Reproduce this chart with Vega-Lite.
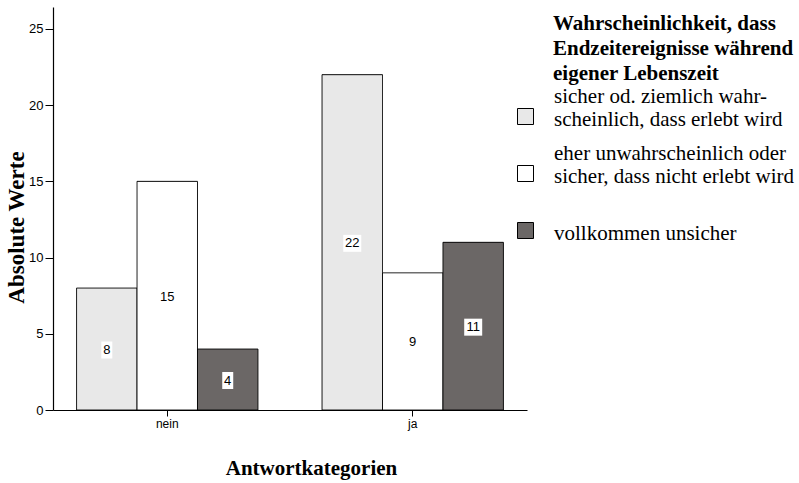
{
  "$schema": "https://vega.github.io/schema/vega-lite/v6.json",
  "width": 474,
  "height": 403,
  "autosize": {"type": "none"},
  "padding": {"left": 53, "top": 7, "right": 272, "bottom": 73},
  "background": "white",
  "config": {
    "view": {"stroke": null},
    "axis": {"labelFont": "Liberation Sans", "labelFontSize": 13, "labelColor": "black", "domainColor": "black", "tickColor": "black", "grid": false}
  },
  "title": {
    "text": ["Wahrscheinlichkeit, dass", "Endzeitereignisse während", "eigener Lebenszeit"],
    "font": "Liberation Serif",
    "fontSize": 21,
    "fontWeight": "bold",
    "color": "black",
    "anchor": "start",
    "frame": "group",
    "orient": "none",
    "align": "left",
    "baseline": "top",
    "lineHeight": 25,
    "dx": 500,
    "dy": 6,
    "offset": 0
  },
  "data": {
    "values": [
      {"antwort": "nein", "kat": "sicher od. ziemlich wahrscheinlich, dass erlebt wird", "n": 8},
      {"antwort": "nein", "kat": "eher unwahrscheinlich oder sicher, dass nicht erlebt wird", "n": 15},
      {"antwort": "nein", "kat": "vollkommen unsicher", "n": 4},
      {"antwort": "ja", "kat": "sicher od. ziemlich wahrscheinlich, dass erlebt wird", "n": 22},
      {"antwort": "ja", "kat": "eher unwahrscheinlich oder sicher, dass nicht erlebt wird", "n": 9},
      {"antwort": "ja", "kat": "vollkommen unsicher", "n": 11}
    ]
  },
  "encoding": {
    "x": {
      "field": "antwort",
      "type": "nominal",
      "sort": ["nein", "ja"],
      "scale": {"paddingInner": 0.261, "paddingOuter": 0.096},
      "axis": {
        "title": "Antwortkategorien",
        "titleFont": "Liberation Serif",
        "titleFontSize": 21,
        "titleFontWeight": "bold",
        "titleColor": "black",
        "titleX": 258,
        "titleY": 64,
        "titleBaseline": "alphabetic",
        "titleAlign": "center",
        "labelAngle": 0,
        "tickSize": 6,
        "labelPadding": 2,
        "labelFontSize": 12,
        "domainWidth": 1.2
      }
    },
    "xOffset": {
      "field": "kat",
      "type": "nominal",
      "sort": ["sicher od. ziemlich wahrscheinlich, dass erlebt wird", "eher unwahrscheinlich oder sicher, dass nicht erlebt wird", "vollkommen unsicher"],
      "scale": {"paddingInner": 0, "paddingOuter": 0}
    }
  },
  "layer": [
    {
      "mark": {"type": "bar", "stroke": "black", "strokeWidth": 1, "opacity": 1},
      "encoding": {
        "y": {
          "field": "n",
          "type": "quantitative",
          "scale": {"domain": [0, 26.44], "nice": false},
          "axis": {
            "title": "Absolute Werte",
            "titleFont": "Liberation Serif",
            "titleFontSize": 23,
            "titleFontWeight": "bold",
            "titleColor": "black",
            "titleAngle": -90,
            "titleX": -37,
            "titleY": 220,
            "titleAlign": "center",
            "titleBaseline": "middle",
            "values": [0, 5, 10, 15, 20, 25],
            "tickSize": 8,
            "labelPadding": 2,
            "domainWidth": 1.2
          }
        },
        "color": {
          "field": "kat",
          "type": "nominal",
          "scale": {
            "domain": ["sicher od. ziemlich wahrscheinlich, dass erlebt wird", "eher unwahrscheinlich oder sicher, dass nicht erlebt wird", "vollkommen unsicher"],
            "range": ["#e8e8e8", "#ffffff", "#6b6766"]
          },
          "legend": {
            "title": null,
            "orient": "none",
            "legendX": 464,
            "legendY": 101,
            "padding": 0,
            "symbolType": "square",
            "symbolSize": 256,
            "symbolStrokeColor": "black",
            "symbolStrokeWidth": 1,
            "symbolOpacity": 1,
            "labelFontSize": 6,
            "labelOpacity": 0,
            "labelExpr": "''",
            "rowPadding": 36
          }
        },
        "strokeDash": {
          "field": "kat",
          "type": "nominal",
          "scale": {
            "domain": ["sicher od. ziemlich wahrscheinlich, dass erlebt wird", "eher unwahrscheinlich oder sicher, dass nicht erlebt wird", "vollkommen unsicher"],
            "range": [[1, 0], [1, 0], [1, 0]]
          },
          "legend": {
            "title": null,
            "orient": "right",
            "offset": -77,
            "padding": 79,
            "symbolType": "square",
            "symbolSize": 256,
            "symbolOpacity": 0,
            "symbolStrokeWidth": 0,
            "labelFont": "Liberation Serif",
            "labelFontSize": 21,
            "labelColor": "black",
            "labelLineHeight": 23,
            "labelOffset": 4,
            "labelLimit": 400,
            "rowPadding": 12,
            "labelBaseline": "middle",
            "labelExpr": "datum.label == 'vollkommen unsicher' ? ['', 'vollkommen unsicher'] : (indexof(datum.label, 'sicher od.') == 0 ? ['sicher od. ziemlich  wahr-', 'scheinlich, dass erlebt wird'] : ['eher unwahrscheinlich oder', 'sicher, dass nicht erlebt wird'])"
          }
        }
      }
    },
    {
      "mark": {"type": "point", "filled": true, "fill": "white", "stroke": null, "opacity": 1, "size": 324, "yOffset": 1},
      "encoding": {
        "y": {"field": "n", "type": "quantitative", "scale": {"domain": [0, 52.88], "nice": false}, "axis": null},
        "shape": {
          "condition": {"test": "datum.n >= 10", "value": "M-1,-0.944H1V0.944H-1Z"},
          "value": "M-0.611,-0.944H0.611V0.944H-0.611Z"
        }
      }
    },
    {
      "mark": {"type": "text", "font": "Liberation Sans", "fontSize": 13, "fill": "black", "baseline": "middle", "align": "center", "dy": 1},
      "encoding": {
        "y": {"field": "n", "type": "quantitative", "scale": {"domain": [0, 52.88], "nice": false}, "axis": null},
        "text": {"field": "n", "type": "quantitative"}
      }
    }
  ],
  "resolve": {"scale": {"y": "independent"}}
}
